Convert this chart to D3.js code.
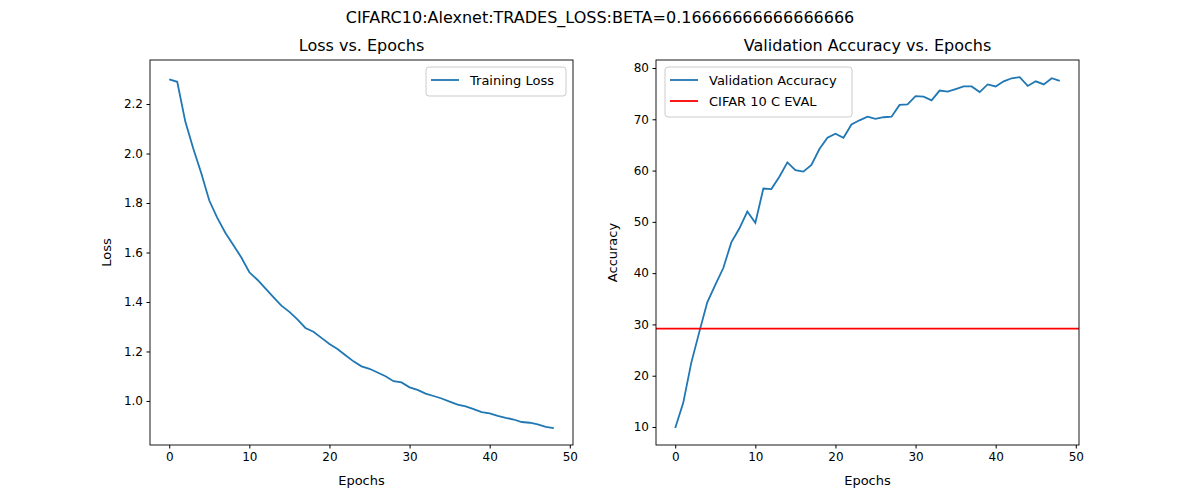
<!DOCTYPE html>
<html><head><meta charset="utf-8">
<script src="https://cdn.jsdelivr.net/npm/d3@7"></script>
<style>body{margin:0;background:#fff}text{font-family:"DejaVu Sans",sans-serif}</style>
</head><body><div id="chart"></div>
<script>
var epochs = d3.range(0, 49);
var trainLoss = [2.30,2.29,2.13,2.02,1.92,1.81,1.74,1.68,1.63,1.58,1.52,1.49,1.455,1.42,1.385,1.36,1.33,1.295,1.28,1.255,1.23,1.21,1.185,1.16,1.14,1.13,1.115,1.10,1.08,1.075,1.055,1.045,1.03,1.02,1.01,0.997,0.985,0.978,0.967,0.955,0.95,0.94,0.932,0.925,0.915,0.912,0.905,0.895,0.89];
var valAcc = [9.8,14.7,22.5,28.5,34.3,37.7,41,46,48.7,52,49.8,56.5,56.4,58.8,61.6,60.1,59.8,61.1,64.2,66.4,67.2,66.4,69,69.8,70.5,70.1,70.4,70.5,72.8,72.9,74.5,74.4,73.7,75.6,75.4,75.9,76.4,76.4,75.3,76.8,76.4,77.4,78,78.2,76.5,77.4,76.8,78,77.5];
var evalAcc = 29.2;
var xTicks = [0,10,20,30,40,50];
var lossTicks = [1.0,1.2,1.4,1.6,1.8,2.0,2.2];
var accTicks = [10,20,30,40,50,60,70,80];

var svg = d3.select("#chart").append("svg").attr("width",1200).attr("height",500);
svg.append("text").attr("x",600).attr("y",23).attr("text-anchor","middle")
    .style("font-size","16px").text("CIFARC10:Alexnet:TRADES_LOSS:BETA=0.16666666666666666");

function panel(x0, title, ylab, yDomain, yTicks, fmt) {
    var w = 423, h = 385, y0 = 60;
    var g = svg.append("g").attr("transform","translate(" + x0 + "," + y0 + ")");
    var x = d3.scaleLinear().domain([-2.4, 50.4]).range([0, w]);
    var y = d3.scaleLinear().domain(yDomain).range([h, 0]);
    g.append("g").attr("transform","translate(0," + h + ")")
        .call(d3.axisBottom(x).tickValues(xTicks).tickSize(3.5).tickPadding(3.5))
        .call(a => a.select(".domain").remove())
        .selectAll("text").style("font-size","12px").attr("fill","#000");
    g.append("g")
        .call(d3.axisLeft(y).tickValues(yTicks).tickFormat(fmt).tickSize(3.5).tickPadding(3.5))
        .call(a => a.select(".domain").remove())
        .selectAll("text").style("font-size","12px").attr("fill","#000");
    g.append("text").attr("x",w/2).attr("y",-9).attr("text-anchor","middle")
        .style("font-size","16px").text(title);
    g.append("text").attr("x",w/2).attr("y",h+40).attr("text-anchor","middle")
        .style("font-size","13px").text("Epochs");
    g.append("text").attr("transform","rotate(-90)").attr("x",-h/2).attr("y",-39)
        .attr("text-anchor","middle").style("font-size","13px").text(ylab);
    return {g: g, x: x, y: y, w: w, h: h};
}

var line = (p, vals) => d3.line().x((d,i) => p.x(epochs[i])).y(d => p.y(d))(vals);

var p1 = panel(150, "Loss vs. Epochs", "Loss", [0.822, 2.378], lossTicks, d3.format(".1f"));
p1.g.append("path").attr("d", line(p1, trainLoss)).attr("fill","none").attr("stroke","#1f77b4").attr("stroke-width",1.8);
p1.g.append("rect").attr("width",p1.w).attr("height",p1.h).attr("fill","none").attr("stroke","#000").attr("stroke-width",0.9);

var p2 = panel(656, "Validation Accuracy vs. Epochs", "Accuracy", [6.49, 81.56], accTicks, d3.format("d"));
p2.g.append("path").attr("d", line(p2, valAcc)).attr("fill","none").attr("stroke","#1f77b4").attr("stroke-width",1.8);
p2.g.append("line").attr("x1",0).attr("x2",p2.w).attr("y1",p2.y(evalAcc)).attr("y2",p2.y(evalAcc))
    .attr("stroke","red").attr("stroke-width",1.8);
p2.g.append("rect").attr("width",p2.w).attr("height",p2.h).attr("fill","none").attr("stroke","#000").attr("stroke-width",0.9);

function legend(g, x, y, w, items) {
    var lg = g.append("g").attr("transform","translate(" + x + "," + y + ")");
    lg.append("rect").attr("width",w).attr("height",8 + items.length*21).attr("rx",3)
        .attr("fill","#fff").attr("fill-opacity",0.8).attr("stroke","#ccc");
    items.forEach(function(it, i) {
        var cy = 13 + i*21;
        lg.append("line").attr("x1",5).attr("x2",33).attr("y1",cy).attr("y2",cy)
            .attr("stroke",it[1]).attr("stroke-width",1.8);
        lg.append("text").attr("x",44).attr("y",cy+4.5).style("font-size","13px").text(it[0]);
    });
}
legend(p1.g, 276, 7, 140, [["Training Loss","#1f77b4"]]);
legend(p2.g, 9, 7, 187, [["Validation Accuracy","#1f77b4"],["CIFAR 10 C EVAL","red"]]);
</script></body></html>
